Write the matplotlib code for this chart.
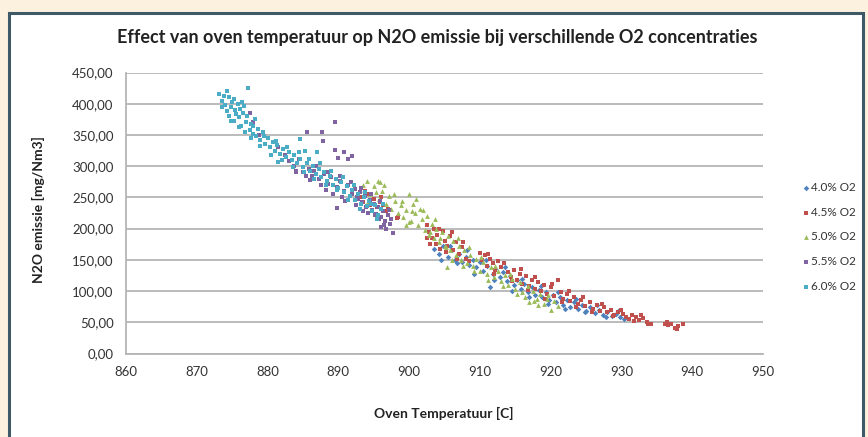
import matplotlib.pyplot as plt
from matplotlib.patches import Rectangle

plt.rcParams['font.family'] = ['Lato', 'DejaVu Sans']

# 4.0% O2
x_40 = [903.5, 904.2, 904.8, 905.5, 906.0, 906.5, 907.0, 907.5, 908.0, 908.5, 909.0, 909.5, 910.0,
        910.5, 911.0, 911.4, 911.8, 912.2, 912.8, 913.3, 913.8, 914.3, 914.8, 915.3, 915.8, 916.3,
        916.8, 917.3, 917.8, 918.3, 918.8, 919.3, 919.8, 920.3, 920.8, 921.3, 921.8, 922.3, 922.8,
        923.3, 923.8, 924.4, 925.0, 925.6, 926.2, 926.8, 927.4, 928.0, 928.6, 929.2, 929.8,
        904.5, 905.8, 906.8, 908.2, 909.2, 910.8, 912.0, 913.6, 914.6, 916.0, 917.0, 918.6, 919.6,
        921.0, 922.0, 923.6, 924.8, 926.5, 927.8, 929.5, 930.4]
y_40 = [168, 160, 172, 155, 165, 150, 160, 146, 155, 142, 150, 138, 146,
        132, 140, 106, 128, 136, 122, 130, 116, 124, 110, 118, 104, 112,
        98, 106, 94, 102, 90, 98, 86, 94, 82, 90, 78, 86, 75,
        82, 72, 78, 68, 74, 65, 70, 62, 67, 60, 64, 58,
        150, 172, 145, 165, 128, 150, 118, 138, 100, 120, 90, 108, 80,
        98, 72, 88, 66, 78, 58, 68, 55]

# 4.5% O2
x_45 = [893.0, 893.5, 894.0, 894.5, 895.0, 895.5, 895.9, 896.3, 896.8, 897.0, 898.3, 898.5, 902.5,
        902.5, 902.8, 903.2, 903.5, 903.8, 904.0, 904.4, 904.8, 905.0, 905.4, 905.8, 906.2, 906.6,
        907.0, 907.5, 908.0, 910.0, 910.3, 910.7, 911.0, 911.4, 911.8, 912.2, 912.6, 913.0, 914.0,
        914.4, 914.8, 915.2, 915.6, 916.0, 916.5, 917.0, 917.4, 917.8, 918.2, 918.6, 919.0, 919.5,
        920.0, 920.5, 921.0, 921.4, 921.8, 922.3, 922.8, 923.3, 923.8, 924.3, 924.8, 925.5, 926.0,
        926.5, 927.0, 927.5, 928.0, 928.5, 929.0, 929.5, 930.2, 930.6, 931.0, 931.5, 932.0, 932.5,
        933.0, 933.6, 934.2, 936.1, 936.6, 937.0, 937.5, 938.0, 938.7,
        893.8, 894.8, 896.0, 903.0, 904.2, 905.2, 906.0, 906.8, 907.6, 908.5, 911.2, 912.0, 913.4,
        914.6, 915.8, 916.8, 917.8, 919.2, 920.2, 921.6, 922.6, 923.6, 924.6, 925.8, 927.2, 928.8,
        930.0, 931.8, 932.8, 933.8, 936.4, 937.8]
y_45 = [250, 242, 255, 238, 248, 235, 243, 238, 228, 232, 217, 218, 206,
        185, 195, 185, 200, 175, 190, 168, 196, 180, 172, 188, 165, 178,
        160, 170, 152, 161, 150, 158, 140, 152, 145, 134, 148, 138, 130,
        122, 134, 118, 128, 112, 124, 108, 118, 104, 114, 100, 110, 96,
        106, 92, 118, 98, 88, 95, 84, 90, 80, 86, 76, 82, 72,
        78, 68, 74, 66, 70, 62, 67, 64, 58, 55, 61, 58, 53,
        57, 50, 47, 48, 46, 47, 41, 44, 48,
        260, 230, 250, 175, 200, 162, 195, 152, 178, 148, 160, 128, 145,
        116, 135, 102, 122, 88, 112, 82, 100, 74, 90, 66, 80, 60,
        70, 52, 62, 47, 51, 39]

# 5.0% O2
x_50 = [893.0, 893.5, 894.0, 894.5, 895.0, 895.6, 895.8, 895.9, 896.2, 896.8, 897.2, 897.5, 898.0,
        898.4, 898.8, 899.2, 899.6, 900.0, 900.0, 900.2, 900.5, 900.8, 901.2, 901.5, 901.8, 902.2,
        902.5, 902.8, 903.2, 903.5, 903.8, 904.2, 904.6, 905.0, 905.3, 905.5, 905.8, 906.2, 906.6,
        907.0, 907.4, 907.8, 908.2, 908.6, 909.0, 909.5, 910.0, 910.5, 911.0, 911.5, 912.0, 912.5,
        913.0, 913.5, 914.0, 914.5, 915.0, 915.6, 916.0, 916.4, 917.0, 917.5, 918.0, 918.5, 919.0,
        919.5, 920.0, 920.5, 921.0,
        894.2, 895.3, 896.5, 897.8, 899.0, 899.5, 900.4, 901.0, 902.0, 903.0, 903.6, 904.4, 905.2,
        906.0, 906.9, 907.6, 908.4, 909.2, 910.2, 911.2, 912.2, 913.2, 914.2, 915.2, 916.8, 918.2,
        919.6, 917.6]
y_50 = [262, 270, 277, 255, 268, 277, 248, 274, 260, 240, 252, 232, 245,
        225, 238, 218, 230, 255, 210, 212, 240, 225, 205, 232, 215, 198,
        220, 190, 208, 185, 200, 178, 195, 172, 139, 188, 165, 180, 158,
        172, 150, 165, 145, 158, 140, 152, 132, 146, 128, 138, 122, 132,
        116, 126, 110, 120, 104, 115, 98, 90, 82, 100, 88, 95, 80,
        88, 70, 84, 76,
        245, 258, 270, 255, 245, 205, 228, 248, 230, 195, 215, 185, 170,
        150, 185, 140, 170, 132, 155, 118, 140, 108, 128, 96, 108, 78,
        94, 84]

# 5.5% O2
x_55 = [877.5, 878.0, 878.8, 881.5, 882.5, 883.0, 883.8, 884.0, 884.0, 884.5, 885.0, 885.6, 885.8,
        886.0, 886.3, 886.8, 887.2, 887.7, 887.8, 888.0, 888.2, 888.5, 889.0, 889.5, 889.5, 889.8,
        889.8, 890.0, 890.3, 890.5, 890.8, 890.8, 891.4, 891.4, 891.9, 892.0, 892.4, 892.5, 892.8,
        893.0, 893.4, 893.5, 893.8, 894.1, 894.2, 894.5, 894.8, 895.0, 895.3, 895.6, 895.8, 896.0,
        896.0, 896.3, 896.6, 897.0, 897.3, 897.7,
        884.2, 885.4, 886.6, 887.5, 888.6, 889.3, 890.2, 891.0, 891.8, 892.6, 893.2, 893.9, 894.6,
        895.2, 895.9, 896.5, 897.1, 897.5, 896.8]
y_55 = [385, 370, 350, 330, 318, 308, 300, 292, 290, 312, 290, 354, 296,
        278, 285, 300, 280, 354, 341, 288, 262, 272, 282, 370, 326, 266,
        233, 313, 276, 250, 322, 260, 311, 270, 316, 255, 264, 238, 248,
        258, 242, 228, 252, 236, 225, 246, 230, 240, 224, 234, 215, 218,
        202, 228, 212, 222, 208, 193,
        305, 285, 292, 270, 290, 256, 285, 245, 275, 250, 265, 235, 255,
        222, 244, 205, 230, 215, 200]

# 6.0% O2
x_60 = [873.2, 873.5, 873.8, 874.0, 874.2, 874.5, 874.6, 874.9, 875.0, 875.2, 875.4, 875.6, 875.8,
        876.0, 876.1, 876.3, 876.5, 876.7, 876.9, 877.1, 877.3, 877.5, 877.7, 877.9, 878.2, 878.4,
        878.7, 879.0, 879.3, 879.6, 880.0, 880.3, 880.7, 881.0, 881.4, 881.5, 881.8, 882.2, 882.6,
        883.0, 883.4, 883.8, 884.2, 884.6, 884.6, 885.0, 885.3, 885.6, 886.0, 886.4, 886.8, 887.0,
        887.2, 887.6, 888.0, 888.4, 888.8, 889.2, 889.6, 890.0, 890.4, 890.8, 891.2, 891.6, 892.0,
        892.4, 892.8, 893.2, 893.6, 894.0, 894.4, 894.8, 895.2, 895.6, 896.0,
        873.6, 874.3, 874.8, 875.3, 875.9, 876.4, 876.8, 877.6, 878.0, 878.9, 879.5, 880.5, 881.2,
        882.0, 882.8, 883.6, 884.4, 885.2, 885.9, 886.6, 887.4, 888.2, 889.0, 889.8, 890.6, 891.4,
        892.2, 893.0, 893.8, 894.6, 895.4, 896.3]
y_60 = [415, 405, 412, 398, 388, 410, 380, 395, 403, 372, 390, 384, 400,
        378, 392, 365, 385, 396, 370, 380, 425, 358, 368, 352, 376, 348,
        360, 342, 355, 336, 345, 330, 338, 325, 334, 306, 320, 328, 315,
        322, 310, 318, 305, 343, 312, 298, 325, 305, 292, 300, 288, 322,
        296, 282, 290, 276, 285, 270, 280, 265, 274, 258, 268, 252, 262,
        246, 255, 240, 250, 236, 245, 228, 238, 222, 232,
        395, 420, 372, 408, 362, 402, 355, 345, 365, 332, 348, 318, 340,
        310, 330, 298, 322, 290, 312, 280, 305, 270, 292, 262, 282, 246,
        270, 232, 258, 240, 215, 240]

series_labels = ['4.0% O2', '4.5% O2', '5.0% O2', '5.5% O2', '6.0% O2']
series_colors = ['#4F81BD', '#C0504D', '#9BBB59', '#8064A2', '#4BACC6']
series_markers = ['D', 's', '^', 's', 's']
series_sizes = [8, 10, 12, 10, 10]
x_ticks = [860, 870, 880, 890, 900, 910, 920, 930, 940, 950]
y_ticks = [0, 50, 100, 150, 200, 250, 300, 350, 400, 450]

fig = plt.figure(figsize=(8.68, 4.37), dpi=100)
fig.patch.set_facecolor('#fbf1de')
# chart frame
fig.patches.append(Rectangle((9 / 868, -0.05), 854 / 868, 1.05 - 13 / 437, transform=fig.transFigure,
                             facecolor='white', edgecolor='#3e5a66', linewidth=2.2, zorder=-10))

ax = fig.add_axes([126 / 868, 1 - 353.5 / 437, 637 / 868, 281 / 437])
ax.set_zorder(1)
ax.set_facecolor('none')

xs = [x_40, x_45, x_50, x_55, x_60]
ys = [y_40, y_45, y_50, y_55, y_60]
for i in range(len(xs)):
    ax.scatter(xs[i], ys[i], s=series_sizes[i], c=series_colors[i], marker=series_markers[i],
               linewidths=0, label=series_labels[i], zorder=3)

ax.set_xlim(860, 950)
ax.set_ylim(0, 450)
ax.set_xticks(x_ticks)
ax.set_yticks(y_ticks)
ax.set_yticklabels([('%.2f' % v).replace('.', ',') for v in y_ticks])
ax.tick_params(axis='both', labelsize=9.5, colors='#a0a0a0', labelcolor='#333333', length=0, pad=9)
ax.yaxis.grid(True, color='#b5b5b5', linewidth=1.3)
ax.set_axisbelow(True)
for side in ['top', 'right']:
    ax.spines[side].set_visible(False)
for side in ['left', 'bottom']:
    ax.spines[side].set_color('#b5b5b5')
    ax.spines[side].set_linewidth(1.3)

fig.text(437 / 868, 1 - 37 / 437, 'Effect van oven temperatuur op N2O emissie bij verschillende O2 concentraties',
         ha='center', va='center', fontsize=13, fontweight='bold', color='#222222')
fig.text(444 / 868, 1 - 413 / 437, 'Oven Temperatuur [C]', ha='center', va='center',
         fontsize=10, fontweight='bold', color='#222222')
fig.text(38 / 868, 1 - 210 / 437, 'N2O emissie [mg/Nm3]', ha='center', va='center', rotation=90,
         fontsize=10, fontweight='bold', color='#222222')

fig.legend(loc='center left', bbox_to_anchor=(789 / 868, 1 - 237 / 437), frameon=False,
           fontsize=8.5, markerscale=1.0, handletextpad=0.0, labelspacing=1.15, handlelength=1.0,
           labelcolor='#333333')

fig.savefig('out.png', dpi=100)
